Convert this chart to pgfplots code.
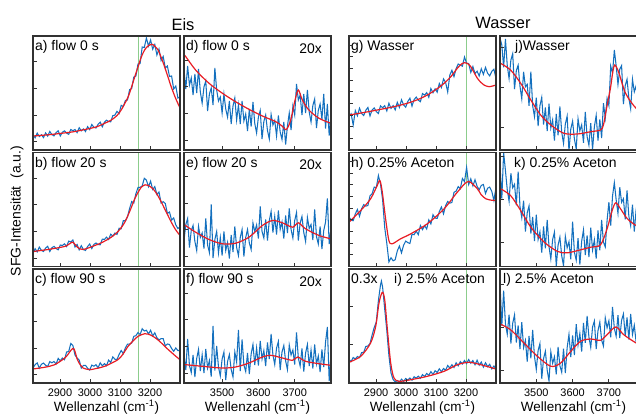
\documentclass[border=0pt]{standalone}
\usepackage{fontspec}
\setmainfont{Liberation Sans}
\usepackage{pgfplots}
\pgfplotsset{compat=1.18}
\definecolor{sfgblue}{RGB}{20,112,190}
\definecolor{fitred}{RGB}{232,28,36}
\definecolor{gline}{RGB}{140,205,140}
\definecolor{frame}{RGB}{50,50,50}

\tikzset{lab/.style={font=\fontsize{14}{16}\selectfont, inner sep=0pt}}
\pgfplotsset{
  panel/.style={width=147bp, height=114bp, scale only axis, anchor=north west,
    ymin=0, ymax=114, axis on top,
    axis line style={line width=1.6bp, draw=frame},
    major tick length=4bp, tick style={line width=0.8bp, draw=frame},
    tick align=inside, xtick pos=bottom, ytick pos=left, yticklabels={},
    xticklabel style={font=\fontsize{11}{12}\selectfont, inner sep=0pt, yshift=-5.5bp},
    xlabel style={font=\fontsize{13.5}{15}\selectfont, inner sep=0pt, at={(axis description cs:0.5,0)}, anchor=base, yshift=-28.5bp}},
  eis/.style={xmin=2810, xmax=3300, xtick={2900,3000,3100,3200}},
  ohz/.style={xmin=3395, xmax=3800, xtick={3500,3600,3700}},
  ohw/.style={xmin=3400, xmax=3805, xtick={3500,3600,3700}},
  bot1/.style={xticklabels={2900,3000,3100,3200}, xlabel={Wellenzahl (cm\textsuperscript{-1})}},
  bot2/.style={xticklabels={3500,3600,3700}, xlabel={Wellenzahl (cm\textsuperscript{-1})}},
  spec/.style={draw=sfgblue, line width=1.05bp, no marks},
  fit/.style={draw=fitred, line width=1.2bp, no marks, smooth, tension=0.5},
  grn/.style={draw=gline, line width=0.9bp, no marks, forget plot},
}

\begin{document}
\begin{tikzpicture}
\useasboundingbox (0,0) rectangle (636bp,-414bp);
\clip (0,0) rectangle (636bp,-414bp);
\node[font=\fontsize{16.5}{18}\selectfont, anchor=base, inner sep=0pt] at (183bp,-30bp) {Eis};
\node[font=\fontsize{16.5}{18}\selectfont, anchor=base, inner sep=0pt] at (503bp,-28bp) {Wasser};
\node[font=\fontsize{14}{16}\selectfont, rotate=90, inner sep=0pt] at (17bp,-211bp) {SFG-Intensität\ \ (a.u.)};

% ---------- a) flow 0 s
\begin{axis}[panel, eis, at={(33bp,-36bp)}, ytick={8.3,35,61.7,88.3}, xticklabels={}]
\addplot[grn] coordinates {(3163,-5) (3163,120)};
\addplot[spec] coordinates {(2810,15.5) (2817,12.2) (2824,16.9) (2831,13.5) (2838,15.2) (2845,12.4) (2852,17.1) (2859,13.9) (2866,18.6) (2873,15.4) (2880,14.1) (2887,17.4) (2894,19.2) (2901,14) (2908,17.8) (2915,19.1) (2922,16.9) (2929,15.7) (2936,20.5) (2943,19.3) (2950,20.5) (2957,17.4) (2964,22.3) (2971,19.2) (2978,21.1) (2985,18.5) (2992,23.4) (2999,20.4) (3006,25.5) (3013,22.7) (3020,22) (3027,25.7) (3034,27.9) (3041,23.2) (3048,27.7) (3055,29.8) (3062,28.5) (3069,28.2) (3076,34.3) (3083,34.9) (3090,38.7) (3097,36.4) (3104,44.7) (3111,43.5) (3118,49.5) (3125,50) (3132,60.4) (3139,61.5) (3146,73) (3153,74) (3160,86) (3167,86.5) (3174,103) (3181,102.5) (3188,112) (3195,104) (3202,110) (3209,100.8) (3216,105.5) (3223,95) (3230,101) (3237,89.5) (3244,93.5) (3251,82) (3258,84) (3265,73.5) (3272,74) (3279,61) (3286,64) (3293,52) (3300,53)};
\addplot[fit] coordinates {(2810,14) (2860,15.2) (2904,16.7) (2950,18.5) (3016,22.7) (3040,25.5) (3071,30) (3090,34.5) (3104,40) (3115,46) (3127,53) (3138,62.5) (3149,73) (3160,83) (3171,93) (3182,100) (3193,104) (3207,105.7) (3217,103.5) (3227,100) (3238,92) (3249,83) (3260,73) (3271,63) (3285,52) (3300,42)};
\node[lab, anchor=base west, xshift=2bp, yshift=-14.5bp] at (rel axis cs:0,1) {a) flow 0 s};
\end{axis}

% ---------- b) flow 20 s
\begin{axis}[panel, eis, at={(33bp,-152.5bp)}, ytick={8.3,35,61.7,88.3}, xticklabels={}]
\addplot[grn] coordinates {(3163,-5) (3163,120)};
\addplot[spec] coordinates {(2810,13) (2817,17.8) (2824,14.6) (2831,19.4) (2838,16.2) (2845,15) (2852,18.4) (2859,20.2) (2866,15) (2873,18.8) (2880,20.1) (2887,17.9) (2894,16.7) (2901,21.5) (2908,21) (2915,22.7) (2922,20) (2929,25.4) (2936,24.5) (2943,26.5) (2950,19.5) (2957,22) (2964,16.6) (2971,20.8) (2978,17) (2985,16) (2992,20) (2999,22.5) (3006,18) (3013,22.1) (3020,23.5) (3027,22) (3034,21.7) (3041,27.4) (3048,27.1) (3055,29.3) (3062,27) (3069,32.3) (3076,30.4) (3083,33.5) (3090,32.1) (3097,38.3) (3104,37.8) (3111,45.8) (3118,45.7) (3125,49.8) (3132,58) (3139,65) (3146,63.5) (3153,72.8) (3160,79) (3167,79.2) (3174,80.5) (3181,88.2) (3188,86.4) (3195,79.8) (3202,85.4) (3209,77) (3216,79.9) (3223,72) (3230,74.5) (3237,63.5) (3244,64.8) (3251,63) (3258,53) (3265,54.5) (3272,46.5) (3279,48.5) (3286,41.6) (3293,38) (3300,39.5)};
\addplot[fit] coordinates {(2810,15) (2860,17) (2904,19.3) (2920,20.5) (2932,22.7) (2943,24.3) (2958,19.3) (2977,17) (3016,21) (3040,24) (3071,29.3) (3095,35.5) (3116,44.3) (3135,57) (3149,67.7) (3160,74) (3171,79.3) (3184,81.7) (3195,81) (3210,77.7) (3224,72) (3238,64.3) (3255,54) (3271,44.3) (3285,37) (3300,31)};
\node[lab, anchor=base west, xshift=2bp, yshift=-14.5bp] at (rel axis cs:0,1) {b) flow 20 s};
\end{axis}

% ---------- c) flow 90 s
\begin{axis}[panel, eis, bot1, at={(33bp,-269bp)}, ytick={8.3,35,61.7,88.3}]
\addplot[grn] coordinates {(3163,-5) (3163,120)};
\addplot[spec] coordinates {(2810,15) (2817,18.3) (2824,20.1) (2831,14.9) (2838,18.7) (2845,20) (2852,17.8) (2859,16.6) (2866,21.4) (2873,20.2) (2880,21.5) (2887,19) (2894,24.6) (2901,22.3) (2908,25) (2915,23.3) (2922,31) (2929,31.5) (2936,39.5) (2943,37.5) (2950,28) (2957,25) (2964,23) (2971,15) (2978,17.5) (2985,17.7) (2992,14.8) (2999,13) (3006,17.9) (3013,16.8) (3020,18.3) (3027,15.2) (3034,20.2) (3041,17.2) (3048,19.4) (3055,17.3) (3062,22.9) (3069,20.5) (3076,26.1) (3083,23.8) (3090,23.5) (3097,28.6) (3104,32.5) (3111,29.3) (3118,35.2) (3125,38.8) (3132,39) (3139,40) (3146,46.7) (3153,47.3) (3160,50.5) (3167,48.4) (3174,54.3) (3181,52) (3188,52.8) (3195,49) (3202,52.8) (3209,47.1) (3216,50.2) (3223,45.3) (3230,43) (3237,44.4) (3244,44.3) (3251,37.2) (3258,39) (3265,38.5) (3272,34.5) (3279,31.7) (3286,35) (3293,32.5) (3300,32.5)};
\addplot[fit] coordinates {(2810,14) (2850,15.8) (2882,18.3) (2916,25) (2930,30) (2938,33.3) (2947,34) (2958,23.3) (2968,18) (2977,15) (2999,13.3) (3020,14.5) (3049,16.7) (3093,23.3) (3110,29) (3127,36.7) (3145,42.5) (3160,46.7) (3182,49.3) (3195,48.8) (3210,46.7) (3225,43.5) (3238,40) (3255,35) (3271,30.7) (3285,27) (3300,23.3)};
\node[lab, anchor=base west, xshift=2bp, yshift=-14.5bp] at (rel axis cs:0,1) {c) flow 90 s};
\end{axis}

% ---------- d) flow 0 s, 20x
\begin{axis}[panel, ohz, at={(184bp,-36bp)}, ytick={10,36.7,63.3,90}, xticklabels={}]
\addplot[spec] coordinates {(3395,80) (3400,61) (3405,84) (3410,65) (3415,72) (3420,55) (3425,76) (3430,57) (3435,81) (3440,58) (3445,47) (3450,63) (3455,69) (3460,39) (3465,56) (3470,62) (3475,45) (3480,82) (3485,60) (3490,49) (3495,53) (3500,37) (3505,56) (3510,41) (3515,33) (3520,49) (3525,26) (3530,44) (3535,52) (3540,30) (3545,45) (3550,26) (3555,49) (3560,29) (3565,36) (3570,19) (3575,41) (3580,23.5) (3585,48) (3590,26.5) (3595,17) (3600,33) (3605,39.5) (3610,11) (3615,28.5) (3620,35) (3625,19.5) (3630,11) (3635,35.5) (3640,25) (3645,29.5) (3650,14) (3655,34.5) (3660,18) (3665,10.5) (3670,28) (3675,5.5) (3680,24) (3685,37) (3690,20) (3695,44) (3700,35) (3705,66) (3710,50) (3715,55) (3720,35) (3725,56) (3730,37) (3735,60) (3740,38) (3745,28) (3750,44.5) (3755,51) (3760,22) (3765,39.5) (3770,46) (3775,30.5) (3780,56) (3785,21.5) (3790,46) (3795,14.5) (3800,35)};
\addplot[fit] coordinates {(3395,95) (3400,93.3) (3427,80) (3464,66.7) (3501,56.7) (3537,48.3) (3574,40.7) (3611,34) (3648,28.3) (3665,24) (3677,20.5) (3689,30) (3701,50) (3710,60) (3721,50) (3739,40) (3767,31.7) (3800,26.7)};
\node[lab, anchor=base west, xshift=2bp, yshift=-14.5bp] at (rel axis cs:0,1) {d) flow 0 s};
\node[lab, anchor=base east, xshift=-9bp, yshift=-17bp] at (rel axis cs:1,1) {20x};
\end{axis}

% ---------- e) flow 20 s, 20x
\begin{axis}[panel, ohz, at={(184bp,-152.5bp)}, ytick={10,36.7,63.3,90}, xticklabels={}]
\addplot[spec] coordinates {(3395,26) (3400,42) (3405,48) (3410,19) (3415,36) (3420,41) (3425,25) (3430,16) (3435,40) (3440,29) (3445,33.5) (3450,18) (3455,48) (3460,21.5) (3465,14) (3470,62) (3475,8.5) (3480,27) (3485,35) (3490,13.5) (3495,29) (3500,11) (3505,35) (3510,16) (3515,24) (3520,8) (3525,31.5) (3530,14.5) (3535,40) (3540,19) (3545,11) (3550,29) (3555,37) (3560,10) (3565,29) (3570,37) (3575,23.5) (3580,17) (3585,43.5) (3590,35) (3595,41.5) (3600,28) (3605,60) (3610,35) (3615,28.5) (3620,47) (3625,26) (3630,46) (3635,55) (3640,34) (3645,50) (3650,32) (3655,56) (3660,37) (3665,44.5) (3670,28) (3675,51) (3680,33.5) (3685,58) (3690,37) (3695,28.5) (3700,46) (3705,54) (3710,26) (3715,43.5) (3720,50) (3725,34) (3730,25) (3735,49) (3740,38) (3745,42) (3750,26.5) (3755,57) (3760,30) (3765,22.5) (3770,40) (3775,17.5) (3780,36) (3785,44.5) (3790,68) (3795,22.5) (3800,38)};
\addplot[fit] coordinates {(3395,42) (3427,34.3) (3464,27) (3501,22.7) (3537,23.3) (3574,29.3) (3611,41) (3639,46) (3666,43.7) (3694,39.3) (3710,43.7) (3730,37.7) (3767,31) (3800,27.7)};
\node[lab, anchor=base west, xshift=2bp, yshift=-14.5bp] at (rel axis cs:0,1) {e) flow 20 s};
\node[lab, anchor=base east, xshift=-9bp, yshift=-17bp] at (rel axis cs:1,1) {20x};
\end{axis}

% ---------- f) flow 90 s, 20x
\begin{axis}[panel, ohz, bot2, at={(184bp,-269bp)}, ytick={10,36.7,63.3,90}]
\addplot[spec] coordinates {(3395,28) (3400,13) (3405,44) (3410,17.5) (3415,10.5) (3420,28) (3425,6) (3430,24.5) (3435,33.5) (3440,12) (3445,28) (3450,10) (3455,34) (3460,15) (3465,22.5) (3470,6.5) (3475,57) (3480,12.5) (3485,37) (3490,16) (3495,7) (3500,24) (3505,31) (3510,3) (3515,21.5) (3520,28.5) (3525,13.5) (3530,6) (3535,31) (3540,21) (3545,53) (3550,12) (3555,43.5) (3560,18) (3565,11.5) (3570,30) (3575,9) (3580,29) (3585,38.5) (3590,18) (3595,35) (3600,17.5) (3605,42) (3610,24) (3615,32.5) (3620,17) (3625,40.5) (3630,24) (3635,49) (3640,28) (3645,18.5) (3650,35) (3655,41.5) (3660,13) (3665,31) (3670,37.5) (3675,22) (3680,13.5) (3685,38) (3690,28) (3695,33) (3700,18.5) (3705,50.5) (3710,25) (3715,17) (3720,34.5) (3725,11.5) (3730,30) (3735,38.5) (3740,17) (3745,33) (3750,14.5) (3755,38.5) (3760,19) (3765,27) (3770,11) (3775,33.5) (3780,16) (3785,41) (3790,56) (3795,2) (3800,28)};
\addplot[fit] coordinates {(3395,18.5) (3446,16.7) (3501,15) (3537,16) (3574,20) (3611,26) (3634,27.7) (3666,25) (3694,22.7) (3708,26) (3730,21.7) (3767,19.3) (3800,17.7)};
\node[lab, anchor=base west, xshift=2bp, yshift=-14.5bp] at (rel axis cs:0,1) {f) flow 90 s};
\node[lab, anchor=base east, xshift=-9bp, yshift=-17bp] at (rel axis cs:1,1) {20x};
\end{axis}

% ---------- g) Wasser
\begin{axis}[panel, eis, at={(349bp,-36bp)}, ytick={11.7,23.3,35,46.7,58.3,70,81.7,93.3,105}, xticklabels={}]
\addplot[grn] coordinates {(3200,-5) (3200,120)};
\addplot[spec] coordinates {(2810,33.4) (2817,36.2) (2824,25) (2831,39.4) (2838,34.2) (2845,41.8) (2852,36.5) (2859,34.5) (2866,39.7) (2873,42.5) (2880,34.1) (2887,40.1) (2894,42.1) (2901,38.4) (2908,36.5) (2915,44.2) (2922,42.2) (2929,44.3) (2936,39.1) (2943,46.8) (2950,41.6) (2957,44.4) (2964,40.1) (2971,47.7) (2978,42.6) (2985,50.2) (2992,45.1) (2999,42.8) (3006,48.5) (3013,51.8) (3020,43.9) (3027,50.4) (3034,52.9) (3041,49.8) (3048,48.3) (3055,56.4) (3062,54.9) (3069,57.4) (3076,52.8) (3083,61.5) (3090,57.3) (3097,61.2) (3104,57.8) (3111,66.5) (3118,62.4) (3125,71.1) (3132,67.6) (3139,58) (3146,74.9) (3153,79.7) (3160,73.4) (3167,81.4) (3174,86) (3181,84.8) (3188,83.8) (3195,93) (3202,86.8) (3209,86.4) (3216,77.6) (3223,83.4) (3230,76.4) (3237,78.8) (3244,74) (3251,81.2) (3258,75.6) (3265,82.6) (3272,76.8) (3279,74.1) (3286,78.6) (3293,80.7) (3300,71.6)};
\addplot[fit] coordinates {(2810,35) (2860,37.5) (2904,40) (2955,43) (3004,46.7) (3040,50.5) (3071,55) (3100,60.5) (3127,66.7) (3150,73.5) (3171,81.7) (3185,86) (3196,87.3) (3205,86.5) (3216,83.3) (3227,77.5) (3238,71.7) (3250,67.5) (3260,65) (3277,63.3) (3300,65)};
\node[lab, anchor=base west, xshift=2bp, yshift=-14.5bp] at (rel axis cs:0,1) {g) Wasser};
\end{axis}

% ---------- h) 0.25% Aceton
\begin{axis}[panel, eis, at={(349bp,-152.5bp)}, ytick={11.7,23.3,35,46.7,58.3,70,81.7,93.3,105}, xticklabels={}]
\addplot[grn] coordinates {(3200,-5) (3200,120)};
\addplot[spec] coordinates {(2810,49.8) (2817,46.2) (2824,45.8) (2831,52.6) (2838,57) (2845,50.2) (2852,57.8) (2859,61.9) (2866,60.4) (2873,61) (2880,70.7) (2887,72.8) (2894,79.4) (2901,78.8) (2908,91) (2915,82.4) (2922,66.8) (2929,39) (2936,23.2) (2943,4.6) (2950,8.8) (2957,5.7) (2964,6.8) (2971,15.6) (2978,20.5) (2985,13.7) (2992,21.3) (2999,25.4) (3006,23.9) (3013,23) (3020,32.2) (3027,31.8) (3034,35.4) (3041,31.8) (3048,41) (3055,36.9) (3062,40.8) (3069,37.5) (3076,46.7) (3083,42.6) (3090,51.8) (3097,48.4) (3104,48.1) (3111,54.8) (3118,59.5) (3125,52.7) (3132,60.8) (3139,65) (3146,63.4) (3153,64) (3160,74.2) (3167,75.3) (3174,79.9) (3181,77.8) (3188,88) (3195,84.9) (3202,99) (3209,82) (3216,87.7) (3223,80.6) (3230,86.8) (3237,80.2) (3244,76.8) (3251,81.1) (3258,82) (3265,73) (3272,78.3) (3279,79.4) (3286,75.2) (3293,66) (3300,79.2)};
\addplot[fit] coordinates {(2810,44.3) (2849,56) (2882,67.7) (2904,81) (2913,86) (2921,74.3) (2932,47.7) (2943,26) (2954,22.7) (2982,27.7) (3016,32.7) (3071,42.7) (3127,57.7) (3171,74.3) (3207,85) (3238,77.7) (3250,72) (3266,67.7) (3280,66.5) (3300,66)};
\node[lab, anchor=base west, xshift=2bp, yshift=-14.5bp] at (rel axis cs:0,1) {h) 0.25\% Aceton};
\end{axis}

% ---------- i) 2.5% Aceton
\begin{axis}[panel, eis, bot1, at={(349bp,-269bp)}, ytick={38.3,76.7}]
\addplot[grn] coordinates {(3200,-5) (3200,120)};
\addplot[spec] coordinates {(2810,23.5) (2817,21.5) (2824,25.5) (2831,24) (2838,26.5) (2845,25.3) (2852,30.4) (2859,30.7) (2866,36.5) (2873,37) (2880,39.5) (2887,48) (2894,55.5) (2901,61) (2908,82.5) (2915,98) (2918,102) (2922,96) (2929,74) (2936,52.5) (2943,27.5) (2950,10) (2957,3.5) (2964,1) (2971,2.5) (2978,1) (2985,3.8) (2992,1.6) (2999,4.5) (3006,3) (3013,5) (3020,2.8) (3027,6.3) (3034,4.8) (3041,6.8) (3048,4.8) (3055,8.4) (3062,6.5) (3069,9.5) (3076,7.7) (3083,11.4) (3090,8.5) (3097,12.3) (3104,10.5) (3111,14.2) (3118,11.3) (3125,14.5) (3132,12.7) (3139,17.5) (3146,15) (3153,18.3) (3160,15.5) (3167,20.2) (3174,17.2) (3181,21.4) (3188,19) (3195,22.5) (3202,19.5) (3209,23.5) (3216,19.8) (3223,22.5) (3230,18.2) (3237,22.8) (3244,17.8) (3251,20.9) (3258,15.9) (3265,20.3) (3272,16.3) (3279,18.7) (3286,14.1) (3293,17) (3300,14)};
\addplot[fit] coordinates {(2810,20.7) (2849,26.7) (2882,40) (2899,56.7) (2910,80) (2921,90.7) (2929,83.3) (2938,53.3) (2949,20) (2960,5) (2977,1.7) (3016,3.3) (3071,6.7) (3127,11.7) (3171,18.3) (3210,20.7) (3249,18.3) (3300,14)};
\node[lab, anchor=base west, xshift=2bp, yshift=-14.5bp] at (rel axis cs:0,1) {0.3x};
\node[lab, anchor=base west, xshift=45bp, yshift=-14.5bp] at (rel axis cs:0,1) {i) 2.5\% Aceton};
\end{axis}

% ---------- j) Wasser
\begin{axis}[panel, ohw, at={(500bp,-36bp)}, ytick={23,63,103}, xticklabels={}]
\addplot[spec] coordinates {(3400,112) (3405,105) (3410,82.6) (3415,111) (3420,84.4) (3425,71.6) (3430,90) (3435,96.4) (3440,60.8) (3445,79.4) (3450,84.8) (3455,63.8) (3460,51.2) (3465,78.2) (3470,63.2) (3475,65.7) (3480,44.2) (3485,78.4) (3490,44.2) (3495,33.3) (3500,52.4) (3505,24) (3510,44.3) (3515,52.6) (3520,25.4) (3525,42.6) (3530,19) (3535,46.3) (3540,22) (3545,30.1) (3550,9.4) (3555,36) (3560,14.6) (3565,43.6) (3570,17.9) (3575,6.6) (3580,26) (3585,33.9) (3590,-1) (3595,20.9) (3600,28.8) (3605,10.8) (3610,1.2) (3615,31.2) (3620,19.2) (3625,25.2) (3630,7.2) (3635,38) (3640,13.2) (3645,4.8) (3650,26.9) (3655,0.5) (3660,23.3) (3665,34.6) (3670,9.4) (3675,30.6) (3680,12) (3685,46.8) (3690,32) (3695,51.6) (3700,44.4) (3705,84) (3710,76.6) (3715,100) (3720,84.4) (3725,65.6) (3730,81) (3735,84.4) (3740,45.8) (3745,64.4) (3750,70.8) (3755,51.8) (3760,41.2) (3765,70.7) (3770,58.2) (3775,64.2) (3780,45.2) (3785,75) (3790,49.2) (3795,39.8) (3800,60.9) (3805,34)};
\addplot[fit] coordinates {(3400,87) (3429,80) (3457,66.7) (3485,50) (3512,35) (3540,25) (3576,16.7) (3613,16) (3650,18.3) (3677,20) (3685,25) (3691,36.7) (3698,50) (3705,63.3) (3711,79) (3716,85) (3722,82) (3728,76.7) (3746,56.7) (3775,41.7) (3805,35)};
\node[lab, anchor=base west, xshift=15bp, yshift=-14.5bp] at (rel axis cs:0,1) {j)Wasser};
\end{axis}

% ---------- k) 0.25% Aceton
\begin{axis}[panel, ohw, at={(500bp,-152.5bp)}, ytick={24,67,110}, xticklabels={}]
\addplot[spec] coordinates {(3400,102.4) (3405,67.8) (3410,114) (3415,95.8) (3420,76.8) (3425,65.2) (3430,93.2) (3435,78.7) (3440,82.2) (3445,61.2) (3450,94.9) (3455,60.2) (3460,48.8) (3465,65.9) (3470,35) (3475,53.8) (3480,60.6) (3485,32.9) (3490,49.6) (3495,25.5) (3500,51.8) (3505,27) (3510,34.6) (3515,13.9) (3520,40) (3525,18.1) (3530,46.6) (3535,19.9) (3540,7.6) (3545,27) (3550,34.4) (3555,0.3) (3560,21.4) (3565,29.3) (3570,10.8) (3575,0.7) (3580,30.2) (3585,18.7) (3590,24.7) (3595,7.2) (3600,44.9) (3605,14.2) (3610,6.3) (3615,28.4) (3620,2) (3625,25.3) (3630,36.6) (3635,11.4) (3640,31.1) (3645,9.5) (3650,38.8) (3655,16.5) (3660,26.6) (3665,7.9) (3670,36) (3675,16.1) (3680,46.6) (3685,24.4) (3690,19.6) (3695,46) (3700,64.4) (3705,40.8) (3710,70.4) (3715,83.8) (3720,66.8) (3725,53.2) (3730,79.2) (3735,64.2) (3740,67.7) (3745,47.2) (3750,76) (3755,50.2) (3760,40.8) (3765,61.9) (3770,35) (3775,56.8) (3780,67.1) (3785,41.4) (3790,59.6) (3795,37) (3800,65.3) (3805,42)};
\addplot[fit] coordinates {(3400,78) (3429,71) (3457,56) (3485,39.3) (3522,24.3) (3559,15) (3586,13.7) (3622,16.7) (3650,19.3) (3677,21.7) (3695,37.7) (3709,56) (3719,63.7) (3732,57.7) (3751,47.7) (3775,41) (3805,37)};
\node[lab, anchor=base west, xshift=14bp, yshift=-14.5bp] at (rel axis cs:0,1) {k) 0.25\% Aceton};
\end{axis}

% ---------- l) 2.5% Aceton
\begin{axis}[panel, ohw, bot2, at={(500bp,-269bp)}, ytick={13,56,99}]
\addplot[spec] coordinates {(3400,100) (3405,57.2) (3410,92.4) (3415,59.2) (3420,48.8) (3425,68.4) (3430,39.5) (3435,59.8) (3440,68.1) (3445,40.4) (3450,57.6) (3455,34) (3460,60.8) (3465,35.5) (3470,42.6) (3475,21.4) (3480,47) (3485,24.6) (3490,53.1) (3495,26.4) (3500,13.6) (3505,32.5) (3510,39.4) (3515,4.3) (3520,24.4) (3525,31.8) (3530,12.8) (3535,2.2) (3540,31.2) (3545,19.7) (3550,26.2) (3555,8.7) (3560,36) (3565,17.2) (3570,10.8) (3575,34.4) (3580,10) (3585,35.3) (3590,48.6) (3595,25.9) (3600,47.6) (3605,28) (3610,58.8) (3615,38) (3620,49.6) (3625,31.4) (3630,60) (3635,40.1) (3640,67) (3645,45.9) (3650,35.6) (3655,56) (3660,62) (3665,34) (3670,52.4) (3675,60.8) (3680,42.8) (3685,37) (3690,65.2) (3695,55.2) (3700,62.2) (3705,45.7) (3710,76) (3715,54.7) (3720,46.8) (3725,67.9) (3730,45) (3735,62.8) (3740,69) (3745,46.9) (3750,65.6) (3755,43.5) (3760,69) (3765,48.5) (3770,57.6) (3775,41) (3780,65) (3785,44.1) (3790,67) (3795,47.4) (3800,38.5) (3805,56)};
\addplot[fit] coordinates {(3400,59) (3429,53.3) (3466,40) (3503,26.7) (3540,16.7) (3567,20) (3595,31.7) (3622,41.7) (3650,44) (3677,42.7) (3695,48.3) (3719,56) (3741,48.3) (3775,40) (3805,35)};
\node[lab, anchor=base west, xshift=3bp, yshift=-14.5bp] at (rel axis cs:0,1) {l) 2.5\% Aceton};
\end{axis}
\end{tikzpicture}
\end{document}
